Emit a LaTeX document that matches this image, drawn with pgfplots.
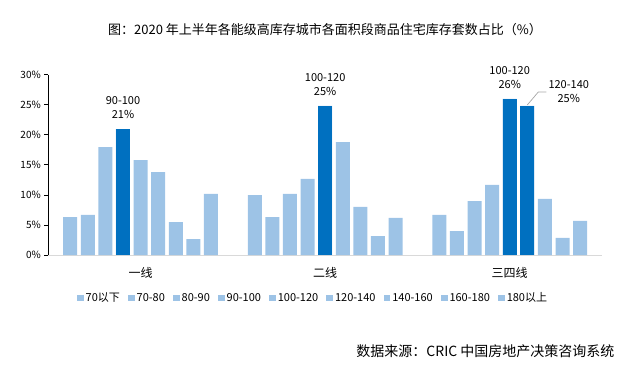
\documentclass[border=0pt]{standalone}
\usepackage{pgfplots}
\pgfplotsset{compat=1.18}
\usepackage{fontspec}
\setmainfont{Noto Sans CJK SC}
\definecolor{lb}{HTML}{9DC3E6}
\definecolor{db}{HTML}{0070C0}
\begin{document}
\begin{tikzpicture}
\useasboundingbox (0,0) rectangle (623bp,365bp);
\node[font=\fontsize{13bp}{15bp}\selectfont] at (325bp,335bp) {图：2020 年上半年各能级高库存城市各面积段商品住宅库存套数占比（\%）};
\node[font=\fontsize{14bp}{16bp}\selectfont, anchor=east] at (618bp,14bp) {数据来源：CRIC 中国房地产决策咨询系统};
\begin{axis}[
  at={(48.3bp,110bp)}, anchor=south west,
  scale only axis, width=553.7bp, height=180.3bp,
  xmin=-0.5, xmax=2.5, ymin=0, ymax=30,
  axis x line*=bottom, axis y line*=left,
  x axis line style={draw=black!15, line width=1bp},
  y axis line style={draw=black, line width=0.8bp},
  xtick={0,1,2}, xticklabels={一线,二线,三四线},
  xtick style={draw=none},
  x tick label style={font=\fontsize{12bp}{14bp}\selectfont, yshift=-5bp},
  ytick={0,5,10,15,20,25,30},
  yticklabels={0\%,5\%,10\%,15\%,20\%,25\%,30\%},
  y tick label style={font=\fontsize{10bp}{12bp}\selectfont},
  ytick style={draw=black, line width=0.8bp},
  tick align=outside, major tick length=4bp,
  clip=false,
  legend columns=9,
  legend style={at={(0.478,-0.2385)}, anchor=center, draw=none, fill=none,
    font=\fontsize{11bp}{13bp}\selectfont,
    /tikz/every even column/.append style={column sep=6bp}},
  legend image code/.code={\fill[#1] (0bp,-3.4bp) rectangle (6.8bp,3.4bp);},
  every axis plot/.append style={ybar, bar width=14bp, draw=none},
]
\addplot[fill=lb, bar shift=-70.4bp] coordinates {(0,6.32) (1,9.98) (2,6.66)};
\addplot[fill=lb, bar shift=-52.8bp] coordinates {(0,6.66) (1,6.32) (2,3.99)};
\addplot[fill=lb, bar shift=-35.2bp] coordinates {(0,17.97) (1,10.15) (2,8.98)};
\addplot[fill=lb, bar shift=-17.6bp] coordinates {(0,20.96) (1,12.65) (2,11.65)};
\addplot[fill=lb, bar shift=0bp] coordinates {(0,15.8) (1,24.8) (2,25.96)};
\addplot[fill=lb, bar shift=17.6bp] coordinates {(0,13.8) (1,18.8) (2,24.8)};
\addplot[fill=lb, bar shift=35.2bp] coordinates {(0,5.49) (1,7.99) (2,9.32)};
\addplot[fill=lb, bar shift=52.8bp] coordinates {(0,2.66) (1,3.16) (2,2.83)};
\addplot[fill=lb, bar shift=70.4bp] coordinates {(0,10.15) (1,6.16) (2,5.66)};
\legend{70以下,70-80,80-90,90-100,100-120,120-140,140-160,160-180,180以上}
\addplot[fill=db, bar shift=-17.6bp, forget plot] coordinates {(0,20.96)};
\addplot[fill=db, bar shift=0bp, forget plot] coordinates {(1,24.8)};
\addplot[fill=db, bar shift=0bp, forget plot] coordinates {(2,25.96)};
\addplot[fill=db, bar shift=17.6bp, forget plot] coordinates {(2,24.8)};
\node[font=\fontsize{11bp}{14bp}\selectfont, align=center, anchor=south, xshift=-17.6bp, yshift=7bp] at (axis cs:0,20.96) {90-100\\21\%};
\node[font=\fontsize{11bp}{14bp}\selectfont, align=center, anchor=south, yshift=7bp] at (axis cs:1,24.8) {100-120\\25\%};
\node[font=\fontsize{11bp}{14bp}\selectfont, align=center, anchor=south, yshift=7bp] at (axis cs:2,25.96) {100-120\\26\%};
\coordinate (L0) at ([xshift=17.6bp,yshift=1bp]axis cs:2,24.8);
\coordinate (L1) at ([xshift=28.6bp,yshift=14bp]axis cs:2,24.8);
\coordinate (L2) at ([xshift=36.6bp,yshift=14bp]axis cs:2,24.8);
\draw[black!35, line width=0.7bp] (L0) -- (L1) -- (L2);
\node[font=\fontsize{11bp}{14bp}\selectfont, align=center, anchor=west, inner sep=2bp] at (L2) {120-140\\25\%};
\end{axis}
\end{tikzpicture}
\end{document}
